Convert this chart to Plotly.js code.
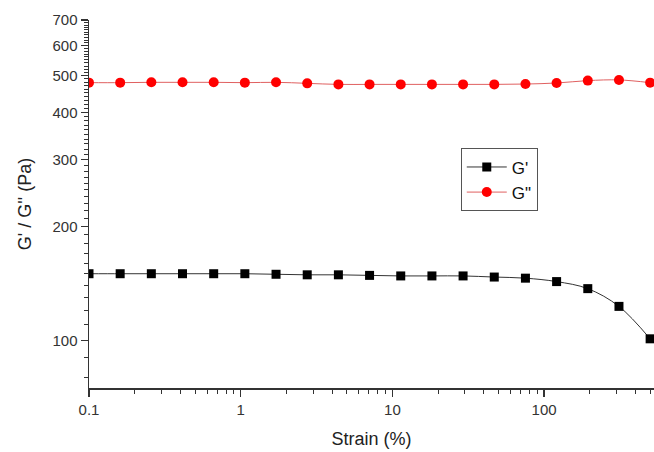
<!DOCTYPE html>
<html>
<head>
<meta charset="utf-8">
<script src="https://cdn.plot.ly/plotly-3.0.1.min.js"></script>
<style>html,body{margin:0;padding:0;background:#fff;}#chart{width:654px;height:452px;}</style>
</head>
<body>
<div id="chart"></div>
<script>
var strain = [0.1, 0.1605, 0.2576, 0.4135, 0.6637, 1.065, 1.710, 2.745, 4.406, 7.071, 11.35, 18.22, 29.24, 46.94, 75.34, 120.9, 194.1, 311.6, 500];
var gPrime = [150, 150, 150, 150, 150, 150, 149.5, 149, 149, 148.5, 148, 148, 148, 147, 146, 143, 137, 123, 101];
var gDouble = [479, 479, 480, 480, 480, 479, 480, 477, 474, 474, 474, 474, 474, 474, 475, 478, 485, 487, 479];
var xTickVals = [0.1, 1, 10, 100];
var xTickText = ['0.1', '1', '10', '100'];
var yTickVals = [100, 200, 300, 400, 500, 600, 700];
var yTickText = ['100', '200', '300', '400', '500', '600', '700'];
var yMinorVals = [80, 90, 110, 120, 130, 140, 150, 160, 170, 180, 190, 210, 220, 230, 240, 250, 260, 270, 280, 290, 310, 320, 330, 340, 350, 360, 370, 380, 390, 410, 420, 430, 440, 450, 460, 470, 480, 490, 510, 520, 530, 540, 550, 560, 570, 580, 590, 610, 620, 630, 640, 650, 660, 670, 680, 690];
var xMinorVals = [0.2,0.3,0.4,0.5,0.6,0.7,0.8,0.9,2,3,4,5,6,7,8,9,20,30,40,50,60,70,80,90,200,300,400,500];

var font = 'Liberation Sans, Arial, sans-serif';
var traces = [
  {x: strain, y: gPrime, name: "G'", mode: 'lines+markers', type: 'scatter',
   line: {color: '#333333', width: 1, shape: 'spline'},
   marker: {symbol: 'square', size: 9, color: '#000000'}},
  {x: strain, y: gDouble, name: 'G"', mode: 'lines+markers', type: 'scatter',
   line: {color: '#e06060', width: 1, shape: 'spline'},
   marker: {symbol: 'circle', size: 10, color: '#ff0000'}}
];
var layout = {
  width: 654, height: 452,
  margin: {l: 89, r: 0, t: 20, b: 64},
  paper_bgcolor: '#ffffff', plot_bgcolor: '#ffffff',
  font: {family: font, color: '#333333'},
  showlegend: true,
  legend: {x: 0.658, y: 0.651, xanchor: 'left', yanchor: 'top',
    bordercolor: '#555555', borderwidth: 1, bgcolor: '#ffffff',
    font: {size: 17, color: '#111111', family: font}, itemwidth: 40},
  xaxis: {type: 'log', range: [-1, 2.7245], showgrid: false, zeroline: false,
    showline: true, linecolor: '#333333', linewidth: 1.5,
    tickmode: 'array', tickvals: xTickVals, ticktext: xTickText,
    ticks: 'outside', ticklen: 7, tickwidth: 1.5, tickcolor: '#333333',
    tickfont: {size: 15, color: '#333333'},
    minor: {tickmode: 'array', tickvals: xMinorVals, ticks: 'outside', ticklen: 4, tickwidth: 1, tickcolor: '#333333', showgrid: false},
    title: {text: 'Strain (%)', font: {size: 18, color: '#222222'}, standoff: 16}},
  yaxis: {type: 'log', range: [1.8745, 2.8457], showgrid: false, zeroline: false,
    showline: true, linecolor: '#333333', linewidth: 1.5,
    tickmode: 'array', tickvals: yTickVals, ticktext: yTickText,
    ticks: 'outside', ticklen: 7, tickwidth: 1.5, tickcolor: '#333333',
    tickfont: {size: 15, color: '#333333'},
    minor: {tickmode: 'array', tickvals: yMinorVals, ticks: 'outside', ticklen: 4, tickwidth: 1, tickcolor: '#333333', showgrid: false},
    title: {text: "G' / G'' (Pa)", font: {size: 18, color: '#222222'}, standoff: 16}}
};
Plotly.newPlot('chart', traces, layout, {displayModeBar: false, staticPlot: true});
</script>
</body>
</html>
